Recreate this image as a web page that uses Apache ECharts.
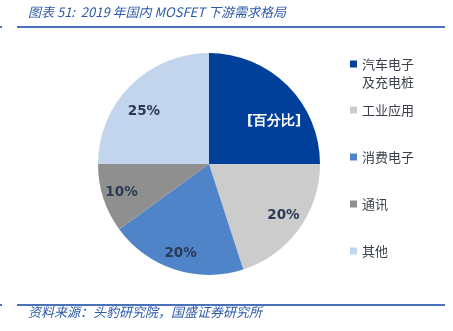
<!DOCTYPE html>
<html>
<head>
<meta charset="utf-8">
<script src="https://cdn.jsdelivr.net/npm/echarts@6/dist/echarts.min.js"></script>
<style>html,body{margin:0;padding:0;background:#fff;}#c{width:453px;height:331px;}</style>
</head>
<body>
<div id="c"></div>
<script>
var categories = ['汽车电子及充电桩', '工业应用', '消费电子', '通讯', '其他'];
var shares = [25, 20, 20, 10, 25];
var sliceColors = ['#00409a', '#cccccc', '#4f85c8', '#8f8f8f', '#c3d5ed'];
var titleText = '图表 51:  2019 年国内 MOSFET 下游需求格局';
var sourceText = '资料来源：头豹研究院，国盛证券研究所';

var chart = echarts.init(document.getElementById('c'), null, {renderer: 'canvas'});
var pieData = categories.map(function (n, i) {
  return {name: n, value: shares[i], itemStyle: {color: sliceColors[i]}};
});
var ghostData = categories.map(function (n, i) {
  var d = {name: n, value: shares[i]};
  if (i === 0) d.label = {color: '#ffffff'};
  return d;
});
var legendText = {color: '#3a3f4a', fontSize: 13, fontFamily: 'Noto Sans CJK SC'};
var option = {
  animation: false,
  backgroundColor: '#fff',
  legend: [
    {
      data: [categories[0]], orient: 'vertical', left: 350, top: 37, padding: 0,
      itemWidth: 7, itemHeight: 7, icon: 'rect', selectedMode: false,
      formatter: function () { return '\u3000\n汽车电子\n及充电桩'; },
      textStyle: Object.assign({lineHeight: 18}, legendText)
    },
    {
      data: categories.slice(1), orient: 'vertical', left: 350, top: 102, padding: 0,
      itemWidth: 7, itemHeight: 7, icon: 'rect', itemGap: 31, selectedMode: false,
      textStyle: Object.assign({lineHeight: 16}, legendText)
    }
  ],
  series: [
    {
      type: 'pie', center: [209, 164], radius: [0, 111], startAngle: 90, clockwise: true,
      data: pieData, label: {show: false}, labelLine: {show: false}, silent: true,
      itemStyle: {borderWidth: 0}
    },
    {
      type: 'pie', center: [209, 164], radius: [0, 178], startAngle: 90, clockwise: true,
      data: ghostData, silent: true,
      itemStyle: {color: 'rgba(0,0,0,0)', borderWidth: 0},
      emphasis: {disabled: true},
      labelLine: {show: false},
      label: {
        show: true, position: 'inside',
        fontFamily: 'DejaVu Sans', fontWeight: 'bold', fontSize: 13.5, color: '#2b3a55',
        formatter: function (p) { return p.dataIndex === 0 ? '[百分比]' : p.value + '%'; }
      },
      labelLayout: function (p) {
        if (p.dataIndex === 0) return {dy: 23};
        if (p.dataIndex === 1) return {dy: -3};
        if (p.dataIndex === 2) return {dy: 2};
        if (p.dataIndex === 4) return {dy: 13};
        return {};
      }
    }
  ],
  graphic: [
    {type: 'text', left: 28, top: 6, style: {text: titleText, fill: '#2d5aa8', font: 'italic 13px "Noto Sans CJK SC"'}},
    {type: 'rect', shape: {x: 17, y: 26, width: 428, height: 2}, style: {fill: '#4a72b8'}},
    {type: 'rect', shape: {x: 0, y: 26, width: 2, height: 2}, style: {fill: '#4a72b8'}},
    {type: 'rect', shape: {x: 17, y: 304, width: 428, height: 2}, style: {fill: '#4a72b8'}},
    {type: 'rect', shape: {x: 0, y: 304, width: 2, height: 2}, style: {fill: '#4a72b8'}},
    {type: 'text', left: 28, top: 306, style: {text: sourceText, fill: '#2d5aa8', font: 'italic 13px "Noto Sans CJK SC"'}}
  ]
};
chart.setOption(option);
</script>
</body>
</html>
